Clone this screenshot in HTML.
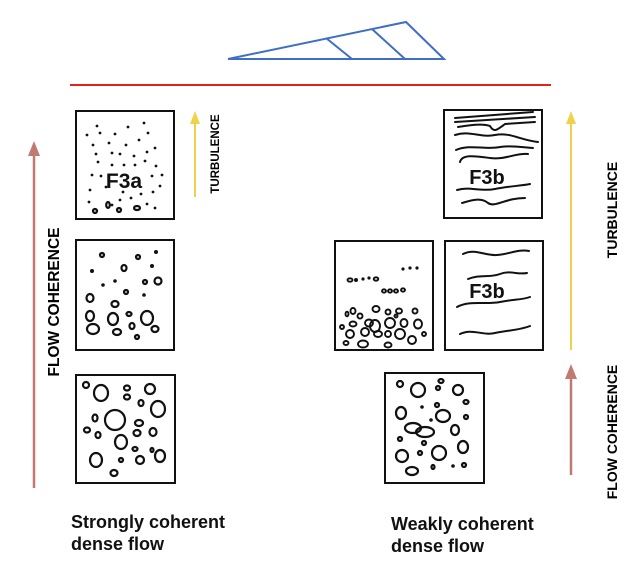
<!DOCTYPE html>
<html><head><meta charset="utf-8"><style>
html,body{margin:0;padding:0;background:#fff;}
svg{display:block;}
text{font-family:"Liberation Sans",sans-serif;font-weight:bold;}
</style></head><body>
<svg width="643" height="574" viewBox="0 0 643 574" xmlns="http://www.w3.org/2000/svg">
<!-- wedge -->
<g stroke="#3f6ec4" stroke-width="2" fill="none">
<polygon points="228,59 406,22 444,59"/>
<line x1="326" y1="38" x2="352" y2="59"/>
<line x1="372" y1="29" x2="405" y2="59"/>
</g>
<line x1="70" y1="85" x2="551" y2="85" stroke="#e0231c" stroke-width="2"/>

<!-- arrows -->
<g>
<line x1="34" y1="488" x2="34" y2="154" stroke="#c07a72" stroke-width="2.5"/>
<polygon points="28,156 40,156 34,141" fill="#c07a72"/>
<line x1="195" y1="197" x2="195" y2="122" stroke="#f0d24a" stroke-width="2"/>
<polygon points="190,124 200,124 195,111" fill="#f0d24a"/>
<line x1="571" y1="350" x2="571" y2="122" stroke="#f0d24a" stroke-width="2"/>
<polygon points="566,124 576,124 571,111" fill="#f0d24a"/>
<line x1="571" y1="475" x2="571" y2="377" stroke="#c07a72" stroke-width="2.5"/>
<polygon points="565,379 577,379 571,364" fill="#c07a72"/>
</g>
<text transform="translate(59,302) rotate(-90)" text-anchor="middle" font-size="15.5">FLOW COHERENCE</text>
<text transform="translate(219,154) rotate(-90)" text-anchor="middle" font-size="11.5">TURBULENCE</text>
<text transform="translate(617,210) rotate(-90)" text-anchor="middle" font-size="14">TURBULENCE</text>
<text transform="translate(617,432) rotate(-90)" text-anchor="middle" font-size="14">FLOW COHERENCE</text>

<!-- boxes -->
<g stroke="#111" stroke-width="2" fill="none">
<rect x="76" y="111" width="98" height="108"/>
<rect x="76" y="240" width="98" height="110"/>
<rect x="76" y="375" width="99" height="108"/>
<rect x="444" y="110" width="98" height="108"/>
<rect x="335" y="241" width="98" height="109"/>
<rect x="445" y="241" width="98" height="109"/>
<rect x="385" y="373" width="99" height="110"/>
</g>

<!-- box1 dots -->
<g fill="#111">
<circle cx="97" cy="126" r="1.4"/><circle cx="100" cy="133" r="1.4"/><circle cx="128" cy="127" r="1.4"/><circle cx="144" cy="123" r="1.4"/><circle cx="148" cy="133" r="1.4"/><circle cx="115" cy="134" r="1.4"/><circle cx="87" cy="135" r="1.4"/><circle cx="93" cy="145" r="1.4"/><circle cx="109" cy="143" r="1.4"/><circle cx="126" cy="145" r="1.4"/><circle cx="139" cy="140" r="1.4"/><circle cx="155" cy="148" r="1.4"/><circle cx="96" cy="154" r="1.4"/><circle cx="112" cy="153" r="1.4"/><circle cx="120" cy="154" r="1.4"/><circle cx="134" cy="156" r="1.4"/><circle cx="147" cy="152" r="1.4"/><circle cx="98" cy="162" r="1.4"/><circle cx="112" cy="165" r="1.4"/><circle cx="124" cy="165" r="1.4"/><circle cx="135" cy="165" r="1.4"/><circle cx="145" cy="161" r="1.4"/><circle cx="156" cy="166" r="1.4"/><circle cx="92" cy="175" r="1.4"/><circle cx="101" cy="176" r="1.4"/><circle cx="152" cy="176" r="1.4"/><circle cx="162" cy="175" r="1.4"/><circle cx="90" cy="190" r="1.4"/><circle cx="106" cy="187" r="1.4"/><circle cx="123" cy="192" r="1.4"/><circle cx="131" cy="198" r="1.4"/><circle cx="141" cy="194" r="1.4"/><circle cx="153" cy="192" r="1.4"/><circle cx="89" cy="202" r="1.4"/><circle cx="147" cy="204" r="1.4"/><circle cx="155" cy="208" r="1.4"/><circle cx="120" cy="200" r="1.4"/><circle cx="160" cy="186" r="1.4"/><circle cx="112" cy="205" r="1.4"/>
</g>
<g stroke="#111" stroke-width="2.2" fill="none">
<ellipse cx="95" cy="211" rx="2" ry="2"/><ellipse cx="108" cy="205" rx="1.8" ry="3"/><ellipse cx="119" cy="210" rx="2" ry="2"/><ellipse cx="137" cy="208" rx="3" ry="2"/>
</g>
<text x="124" y="188" text-anchor="middle" font-size="21" fill="#111">F3a</text>

<!-- box2 -->
<g stroke="#111" stroke-width="2.2" fill="none">
<ellipse cx="102" cy="255" rx="2" ry="2"/><ellipse cx="138" cy="257" rx="2" ry="2"/><ellipse cx="124" cy="268" rx="2.5" ry="3"/><ellipse cx="158" cy="281" rx="3.5" ry="3.5"/><ellipse cx="145" cy="282" rx="2" ry="2"/><ellipse cx="126" cy="292" rx="2" ry="2"/><ellipse cx="90" cy="298" rx="3.5" ry="4"/><ellipse cx="115" cy="304" rx="3.5" ry="3"/>
<ellipse cx="90" cy="316" rx="4" ry="5"/><ellipse cx="113" cy="319" rx="5" ry="6"/><ellipse cx="129" cy="314" rx="2.5" ry="2"/><ellipse cx="147" cy="318" rx="6" ry="7"/><ellipse cx="93" cy="329" rx="6" ry="5"/><ellipse cx="117" cy="332" rx="4" ry="3"/><ellipse cx="132" cy="326" rx="2.5" ry="3"/><ellipse cx="155" cy="329" rx="3.5" ry="3"/><ellipse cx="137" cy="337" rx="2" ry="2"/>
</g>
<g fill="#111"><circle cx="156" cy="252" r="2"/><circle cx="92" cy="271" r="2"/><circle cx="152" cy="266" r="2"/><circle cx="103" cy="285" r="1.8"/><circle cx="115" cy="281" r="1.8"/><circle cx="144" cy="295" r="1.8"/></g>

<!-- box3 -->
<g stroke="#111" stroke-width="2.2" fill="none">
<ellipse cx="86" cy="385" rx="3" ry="3"/><ellipse cx="101" cy="393" rx="7" ry="8"/><ellipse cx="127" cy="388" rx="3" ry="2.5"/><ellipse cx="127" cy="397" rx="3" ry="2.5"/><ellipse cx="150" cy="389" rx="5" ry="5"/><ellipse cx="141" cy="403" rx="2.5" ry="3"/><ellipse cx="158" cy="409" rx="7" ry="8"/><ellipse cx="115" cy="420" rx="10" ry="10"/><ellipse cx="95" cy="418" rx="2.5" ry="3.5"/><ellipse cx="139" cy="423" rx="4" ry="3"/><ellipse cx="87" cy="430" rx="3" ry="2.5"/><ellipse cx="98" cy="435" rx="2.5" ry="3"/><ellipse cx="137" cy="433" rx="3.5" ry="3"/><ellipse cx="153" cy="432" rx="3.5" ry="4"/><ellipse cx="121" cy="442" rx="6" ry="7"/><ellipse cx="135" cy="449" rx="2.5" ry="2"/><ellipse cx="96" cy="460" rx="6" ry="7"/><ellipse cx="121" cy="460" rx="2" ry="2"/><ellipse cx="140" cy="460" rx="4" ry="4"/><ellipse cx="160" cy="456" rx="5" ry="6"/><ellipse cx="114" cy="473" rx="3.5" ry="3"/><ellipse cx="152" cy="450" rx="1.5" ry="2"/>
</g>

<!-- right top F3b -->
<g stroke="#111" stroke-width="2" fill="none" stroke-linecap="round">
<path d="M455,118 L533,112"/>
<path d="M455,122 L535,117"/>
<path d="M458,127 C475,124 485,124 490,126 C494,133 497,130 505,124 L535,122"/>
<path d="M455,135 C470,130 480,138 495,135 C510,132 520,140 538,142"/>
<path d="M456,150 C470,144 485,150 500,147 C515,145 525,148 533,148"/>
<path d="M460,162 C462,154 475,156 490,158 C505,160 515,153 528,154"/>
<path d="M457,190 C470,186 480,192 495,189 C510,186 520,186 530,184"/>
<path d="M462,203 C475,199 482,198 488,203 C495,208 505,198 525,198"/>
</g>
<text x="487" y="184" text-anchor="middle" font-size="20" fill="#111">F3b</text>

<!-- middle right -->
<g stroke="#111" stroke-width="2" fill="none" stroke-linecap="round">
<path d="M463,254 C475,248 485,256 497,255 C510,254 518,249 529,251"/>
<path d="M468,279 C480,274 490,278 500,274 C510,270 518,275 527,273"/>
<path d="M457,307 C470,300 485,305 500,302 C515,299 522,300 530,297"/>
<path d="M460,334 C472,328 483,336 495,333 C510,330 520,330 530,326"/>
</g>
<text x="487" y="298" text-anchor="middle" font-size="20" fill="#111">F3b</text>

<!-- middle left -->
<g fill="#111">
<circle cx="403" cy="269" r="1.6"/><circle cx="410" cy="268" r="1.6"/><circle cx="417" cy="268" r="1.6"/>
<circle cx="356" cy="280" r="2"/><circle cx="363" cy="279" r="1.6"/><circle cx="369" cy="278" r="1.6"/>
</g>
<g stroke="#111" stroke-width="1.9" fill="none">
<ellipse cx="350" cy="280" rx="2.5" ry="1.7"/><ellipse cx="376" cy="279" rx="2.3" ry="1.7"/>
<ellipse cx="384" cy="291" rx="2" ry="1.7"/><ellipse cx="390" cy="291" rx="2" ry="1.7"/><ellipse cx="396" cy="291" rx="2" ry="1.7"/><ellipse cx="403" cy="290" rx="2" ry="1.7"/>
<ellipse cx="347" cy="314" rx="1.5" ry="2.3"/><ellipse cx="353" cy="311" rx="2.5" ry="3"/><ellipse cx="360" cy="316" rx="2.5" ry="2.5"/><ellipse cx="376" cy="309" rx="3.5" ry="3"/><ellipse cx="388" cy="312" rx="2.5" ry="2.5"/><ellipse cx="399" cy="311" rx="3" ry="2.5"/><ellipse cx="415" cy="311" rx="2.5" ry="2.5"/><ellipse cx="396" cy="316" rx="1.5" ry="1.5"/>
<ellipse cx="342" cy="327" rx="2" ry="2"/><ellipse cx="353" cy="324" rx="3.5" ry="2.5"/><ellipse cx="369" cy="323" rx="4" ry="3.5"/><ellipse cx="375" cy="326" rx="5" ry="6"/><ellipse cx="390" cy="323" rx="5" ry="5"/><ellipse cx="404" cy="323" rx="3.5" ry="4"/><ellipse cx="418" cy="324" rx="4" ry="4.5"/>
<ellipse cx="350" cy="334" rx="4" ry="4"/><ellipse cx="365" cy="332" rx="4" ry="4"/><ellipse cx="378" cy="334" rx="4" ry="3"/><ellipse cx="388" cy="334" rx="3" ry="3"/><ellipse cx="400" cy="334" rx="5" ry="5"/><ellipse cx="424" cy="334" rx="2" ry="2"/><ellipse cx="412" cy="340" rx="4" ry="4"/>
<ellipse cx="346" cy="343" rx="2.5" ry="2"/><ellipse cx="363" cy="344" rx="5" ry="3.5"/><ellipse cx="388" cy="345" rx="3.5" ry="2.5"/>
</g>

<!-- bottom right -->
<g stroke="#111" stroke-width="2.2" fill="none">
<ellipse cx="400" cy="384" rx="3" ry="3"/><ellipse cx="418" cy="390" rx="7" ry="7"/><ellipse cx="441" cy="381" rx="2.5" ry="2"/><ellipse cx="438" cy="388" rx="2" ry="2"/><ellipse cx="458" cy="390" rx="5" ry="5"/><ellipse cx="466" cy="402" rx="2.5" ry="2"/><ellipse cx="437" cy="405" rx="2" ry="2"/><ellipse cx="401" cy="413" rx="5" ry="6"/><ellipse cx="443" cy="416" rx="7" ry="6"/><ellipse cx="466" cy="417" rx="2" ry="2"/><ellipse cx="413" cy="428" rx="8" ry="5"/><ellipse cx="425" cy="432" rx="9" ry="5"/><ellipse cx="455" cy="430" rx="4" ry="5"/><ellipse cx="400" cy="439" rx="2" ry="2"/><ellipse cx="424" cy="443" rx="2" ry="2"/><ellipse cx="402" cy="456" rx="6" ry="6"/><ellipse cx="420" cy="453" rx="2" ry="2"/><ellipse cx="439" cy="453" rx="7" ry="7"/><ellipse cx="463" cy="447" rx="5" ry="6"/><ellipse cx="412" cy="471" rx="6" ry="4"/><ellipse cx="433" cy="467" rx="1.5" ry="2"/><ellipse cx="464" cy="465" rx="2" ry="2"/>
</g>
<g fill="#111"><circle cx="422" cy="407" r="1.8"/><circle cx="431" cy="420" r="1.8"/><circle cx="453" cy="466" r="1.8"/></g>

<!-- captions -->
<text x="71" y="528" font-size="18" fill="#111">Strongly coherent</text>
<text x="71" y="550" font-size="18" fill="#111">dense flow</text>
<text x="391" y="530" font-size="18" fill="#111">Weakly coherent</text>
<text x="391" y="552" font-size="18" fill="#111">dense flow</text>
</svg>
</body></html>
